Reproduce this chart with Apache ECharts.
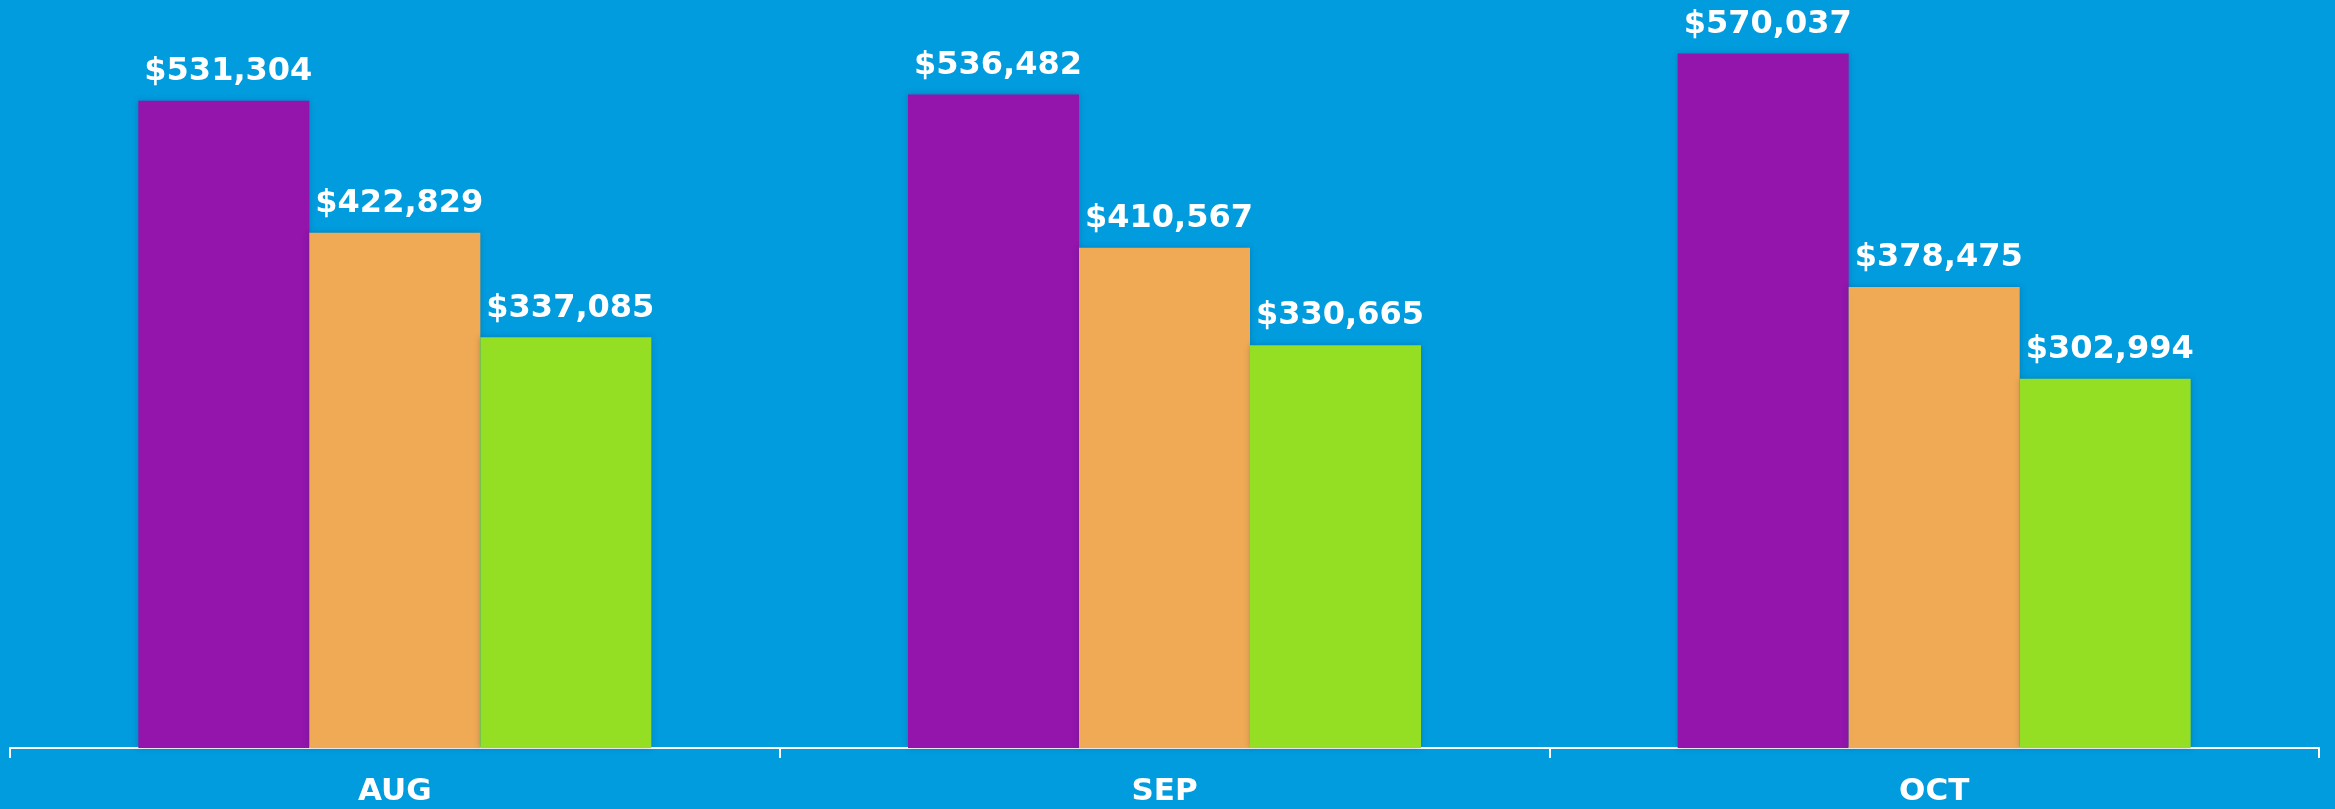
<!DOCTYPE html>
<html>
<head>
<meta charset="utf-8">
<script src="https://cdn.jsdelivr.net/npm/echarts@6/dist/echarts.min.js"></script>
<style>
  html, body { margin: 0; padding: 0; background: #009cde; }
  #chart { width: 2335px; height: 809px; }
</style>
</head>
<body>
<div id="chart"></div>
<script>
const months = ['AUG', 'SEP', 'OCT'];
const seriesA = [531304, 536482, 570037];
const seriesB = [422829, 410567, 378475];
const seriesC = [337085, 330665, 302994];
const barColors = ['#9315ab', '#f0aa55', '#94de24'];

var chartDom = document.getElementById('chart');
var myChart = echarts.init(chartDom);

function money(p) {
  return '$' + p.value.toLocaleString('en-US');
}

function makeSeries(data, color) {
  return {
    type: 'bar',
    data: data,
    barWidth: 171,
    barGap: '0%',
    itemStyle: {
      color: color,
      shadowBlur: 6,
      shadowColor: 'rgba(0, 40, 80, 0.25)'
    },
    label: {
      show: true,
      position: [6, -13],
      align: 'left',
      verticalAlign: 'bottom',
      color: '#ffffff',
      fontFamily: 'DejaVu Sans',
      fontWeight: 'bold',
      fontSize: 32,
      formatter: money
    }
  };
}

var option = {
  backgroundColor: '#009cde',
  animation: false,
  grid: { left: 10, right: 16, top: 17, bottom: 61, containLabel: false },
  xAxis: {
    type: 'category',
    data: months,
    axisLine: { lineStyle: { color: '#ffffff', width: 2 } },
    axisTick: { show: true, length: 10, lineStyle: { color: '#ffffff', width: 2 } },
    axisLabel: {
      color: '#ffffff',
      fontFamily: 'DejaVu Sans',
      fontWeight: 'bold',
      fontSize: 31,
      margin: 28
    }
  },
  yAxis: {
    type: 'value',
    min: 0,
    max: 600000,
    show: false,
    splitLine: { show: false }
  },
  series: [
    makeSeries(seriesA, barColors[0]),
    makeSeries(seriesB, barColors[1]),
    makeSeries(seriesC, barColors[2])
  ]
};

option && myChart.setOption(option);
</script>
</body>
</html>
